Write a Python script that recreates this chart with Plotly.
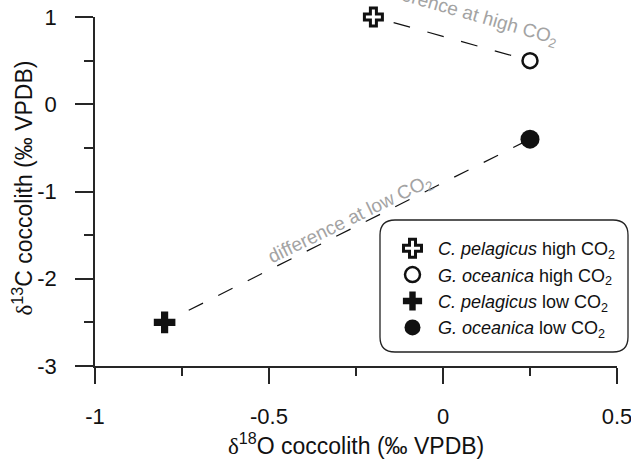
import plotly.graph_objects as go

# ---- data ----
series_names = [
    "<i>C. pelagicus</i> high CO<sub>2</sub>",
    "<i>G. oceanica</i> high CO<sub>2</sub>",
    "<i>C. pelagicus</i> low CO<sub>2</sub>",
    "<i>G. oceanica</i> low CO<sub>2</sub>",
]
d18O = [-0.2, 0.25, -0.8, 0.25]
d13C = [1.0, 0.5, -2.5, -0.4]
x_ticks = [-1, -0.5, 0, 0.5]
x_tick_labels = ["-1", "-0.5", "0", "0.5"]
y_ticks = [-3, -2, -1, 0, 1]
y_tick_labels = ["-3", "-2", "-1", "0", "1"]
diff_labels = ["difference at high CO<sub>2</sub>", "difference at low CO<sub>2</sub>"]
diff_label_x = [0.069, -0.267]
diff_label_y = [1.03, -1.33]

X_RANGE = [-1, 0.5]
Y_RANGE = [-3, 1]

# ---- layout geometry ----
W, H = 631, 465
ML, MR, MT, MB = 95, 14, 17, 99
PW, PH = W - ML - MR, H - MT - MB
FONT = "Liberation Sans, Arial, sans-serif"
AX = "#262626"

def px(X):
    return (X - ML) / PW

def py(Y):
    return (H - MB - Y) / PH

fig = go.Figure()

# dashed connecting lines (high pair, low pair)
fig.add_trace(go.Scatter(
    x=[d18O[0], d18O[1]], y=[d13C[0], d13C[1]], mode="lines",
    line=dict(color="#111111", width=1.2,
              dash="0px,21px,17px,18px,17px,18px,17px,18px,17px,400px"),
    showlegend=False, hoverinfo="skip"))
fig.add_trace(go.Scatter(
    x=[d18O[2], d18O[3]], y=[d13C[2], d13C[3]], mode="lines",
    line=dict(color="#111111", width=1.2,
              dash="0px,27px" + ",16px,17px" * 11 + ",16px,600px"),
    showlegend=False, hoverinfo="skip"))

symbols = ["cross-open", "circle-open", "cross", "circle"]
sizes = [15, 15, 18, 19]
lws = [3, 2.5, 0, 0]
for i in range(4):
    fig.add_trace(go.Scatter(
        x=[d18O[i]], y=[d13C[i]], mode="markers", name=series_names[i],
        legendgroup=f"g{i}",
        marker=dict(symbol=symbols[i], size=sizes[i], color="#111111",
                    line=dict(color="#111111", width=lws[i])),
        cliponaxis=False))

annotations = []
angles = [16, -26]
for i in range(2):
    annotations.append(dict(
        x=(diff_label_x[i] - X_RANGE[0]) / (X_RANGE[1] - X_RANGE[0]),
        y=(diff_label_y[i] - Y_RANGE[0]) / (Y_RANGE[1] - Y_RANGE[0]),
        xref="paper", yref="paper", xanchor="center", yanchor="middle",
        text=diff_labels[i], showarrow=False, textangle=angles[i],
        font=dict(family=FONT, size=19, color="#a3a3a3")))

delta = "<span style=\"font-family:'Liberation Serif', serif\">δ</span>"
annotations.append(dict(
    x=0.5, y=0, xref="paper", yref="paper", yshift=-78,
    text=delta + "<sup>18</sup>O coccolith (‰ VPDB)", showarrow=False,
    font=dict(family=FONT, size=23, color="#111111"),
    xanchor="center", yanchor="middle"))
annotations.append(dict(
    x=0, y=0.5, xref="paper", yref="paper", xshift=-73, yshift=3,
    text=delta + "<sup>13</sup>C coccolith (‰ VPDB)", showarrow=False,
    textangle=-90, font=dict(family=FONT, size=23, color="#111111"),
    xanchor="center", yanchor="middle"))

# rounded legend frame
x0, x1 = px(380), px(628)
y0, y1 = py(352), py(220)
rx, ry = 15 / PW, 15 / PH
path = (f"M {x0+rx},{y1} L {x1-rx},{y1} Q {x1},{y1} {x1},{y1-ry} "
        f"L {x1},{y0+ry} Q {x1},{y0} {x1-rx},{y0} L {x0+rx},{y0} "
        f"Q {x0},{y0} {x0},{y0+ry} L {x0},{y1-ry} Q {x0},{y1} {x0+rx},{y1} Z")
shapes = [dict(type="path", xref="paper", yref="paper", path=path,
               line=dict(color="#222222", width=1.3), fillcolor="white", layer="below")]

fig.update_layout(
    width=W, height=H,
    margin=dict(l=ML, r=MR, t=MT, b=MB, autoexpand=False),
    paper_bgcolor="white", plot_bgcolor="white",
    font=dict(family=FONT, size=20, color="#111111"),
    showlegend=True,
    legend=dict(x=px(387), y=py(230), xanchor="left", yanchor="top",
                bgcolor="rgba(0,0,0,0)", borderwidth=0, tracegroupgap=0,
                itemwidth=41,
                font=dict(family=FONT, size=18, color="#111111"),
                itemsizing="trace"),
    annotations=annotations,
    shapes=shapes,
    xaxis=dict(range=X_RANGE, tickvals=x_ticks, ticktext=x_tick_labels,
               automargin=False, ticklabeloverflow="allow",
               showgrid=False, zeroline=False, showline=True, linecolor=AX, linewidth=1.5,
               ticks="outside", ticklen=16, tickwidth=1.5, tickcolor=AX,
               ticklabelstandoff=14, tickfont=dict(size=22),
               minor=dict(dtick=0.25, tick0=-1, ticks="outside", ticklen=8,
                          tickwidth=1.5, tickcolor=AX, showgrid=False)),
    yaxis=dict(range=Y_RANGE, tickvals=y_ticks, ticktext=y_tick_labels,
               automargin=False, ticklabeloverflow="allow",
               showgrid=False, zeroline=False, showline=True, linecolor=AX, linewidth=1.5,
               ticks="outside", ticklen=18, tickwidth=1.5, tickcolor=AX,
               ticklabelstandoff=14, tickfont=dict(size=22),
               minor=dict(dtick=0.5, tick0=-3, ticks="outside", ticklen=9,
                          tickwidth=1.5, tickcolor=AX, showgrid=False)),
)

fig.write_html("out.html", config={"displayModeBar": False},
               post_script="document.body.style.margin='0';document.body.style.overflow='hidden';")
